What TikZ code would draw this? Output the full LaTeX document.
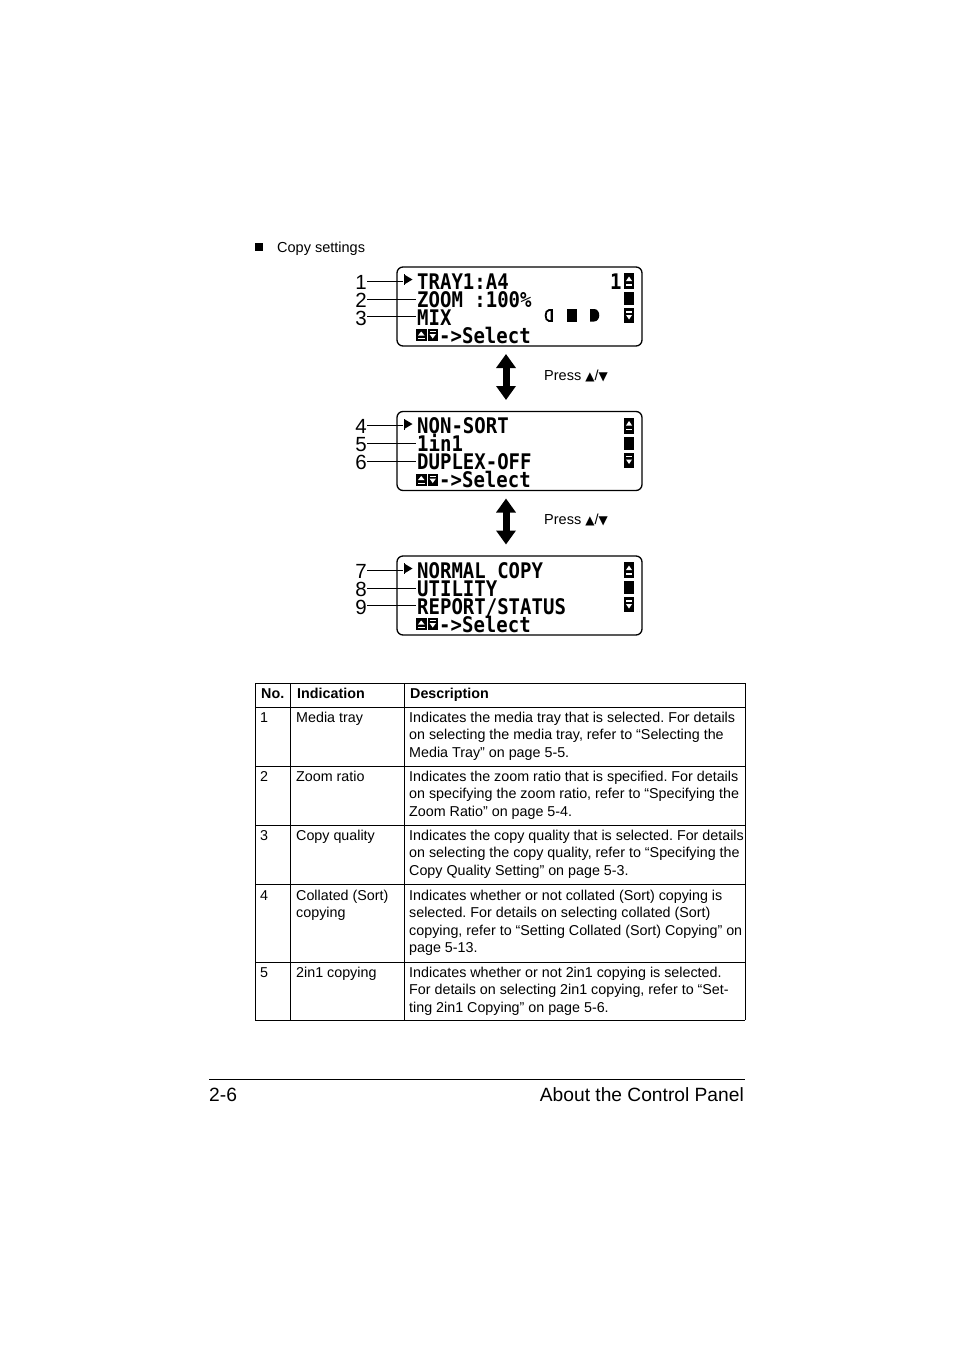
\documentclass[tikz,border=0pt]{standalone}
\usepackage{fontspec}
\setmainfont{Liberation Sans}
\newfontfamily\lcdfont[FakeStretch=0.884]{DejaVu Sans Mono}
\newfontfamily\symfont{DejaVu Sans}
\usetikzlibrary{arrows.meta}
\frenchspacing
\newcommand\lines[1]{\begin{tabular}[t]{@{}l@{}}#1\end{tabular}}
\tikzset{
  lcd/.style={font=\lcdfont\bfseries\fontsize{21.5}{21.5}\selectfont, anchor=base west, inner sep=0pt, text height=15.5pt, text depth=0pt},
  num/.style={font=\fontsize{20.5}{20.5}\selectfont, anchor=base east, inner sep=0pt},
  panel/.style={draw, line width=1.3pt, rounded corners=6pt, minimum width=245pt, minimum height=79pt, inner sep=0pt},
  leader/.style={line width=0.9pt},
  tbl/.style={font=\fontsize{14.3}{17.6}\selectfont, anchor=base west, inner sep=0pt},
  tblhead/.style={font=\bfseries\fontsize{14.3}{17.6}\selectfont, anchor=base west, inner sep=0pt},
  rule/.style={line width=0.9pt},
  updown/.style={line width=7pt, {Triangle[width=19pt,length=14pt]}-{Triangle[width=19pt,length=14pt]}},
  small/.style={font=\fontsize{14.5}{17}\selectfont, anchor=base west, inner sep=0pt},
  foot/.style={font=\fontsize{19.2}{22}\selectfont, inner sep=0pt},
}
\newcommand\tri[1]{{\symfont\fontsize{12}{12}\selectfont #1}}
% common parts of one LCD panel, #1 = name prefix
\newcommand\lcdcommon[1]{%
  \node[panel] (#1) at (519.5,306.5) {};
  % pointer
  \fill (403.5,274) rectangle (405,285);
  \fill (405,275) -- (412.5,279.5) -- (405,284) -- cycle;
  % scroll bar
  \fill (624,273) rectangle (634,289);
  \fill[white] (626,281) -- (632,281) -- (629,276.5) -- cycle;
  \fill[white] (626,284) rectangle (632,285.5);
  \fill (624,292) rectangle (634,305);
  \fill (624,308) rectangle (634,323);
  \fill[white] (626,311) rectangle (632,312.5);
  \fill[white] (626,315) -- (632,315) -- (629,319.5) -- cycle;
  % key icons
  \fill (416,329) rectangle (426.5,341);
  \fill[white] (418,335.5) -- (424.5,335.5) -- (421.25,331.5) -- cycle;
  \fill[white] (418,338) rectangle (424.5,339);
  \fill (427.5,329) rectangle (438,341);
  \fill[white] (429.5,331) rectangle (436,332);
  \fill[white] (429.5,334) -- (436,334) -- (432.75,338.5) -- cycle;
  \node[lcd] (#1s) at (439,343) {->Select};
}
\begin{document}
\begin{tikzpicture}[x=1pt,y=-1pt]
\useasboundingbox (0,0) rectangle (954,1350);

% heading
\fill (255,243) rectangle (263,251);
\node[small] (head) at (277,252) {Copy settings};

% ---------- panel 1
\begin{scope}
  \lcdcommon{pa}
  \node[lcd] (pa1) at (417,289) {TRAY1:A4};
  \node[lcd] (pa2) at (417,307) {ZOOM :100\%};
  \node[lcd] (pa3) at (417,325) {MIX};
  \node[lcd] (pa1r) at (610,289) {1};
  % quality icons
  \draw[line width=1.8pt] (551.5,310) -- (549,310) .. controls (544.5,310) and (544.5,321) .. (549,321) -- (551.5,321) -- cycle;
  \fill (551,309) rectangle (553,322);
  \fill (567,309) rectangle (576.5,321.5);
  \fill (590,309) -- (594,309) .. controls (601,309) and (601,321.5) .. (594,321.5) -- (590,321.5) -- cycle;
\end{scope}
\node[num] (n1) at (367,289) {1};
\node[num] (n2) at (367,307) {2};
\node[num] (n3) at (367,325) {3};
\coordinate (e1) at (403,281);
\coordinate (e2) at (416,299);
\coordinate (e3) at (416,316.5);
\draw[leader] (n1.east |- e1) -- (e1);
\draw[leader] (n2.east |- e2) -- (e2);
\draw[leader] (n3.east |- e3) -- (e3);

% arrow 1
\coordinate (a1t) at (506,354);
\coordinate (a1b) at (506,400);
\draw[updown] (a1t) -- (a1b);
\node[small] (press1) at (544,380) {Press \tri{▲}/\tri{▼}};

% ---------- panel 2
\begin{scope}[shift={(0,144.5)}]
  \lcdcommon{pb}
  \node[lcd] (pb1) at (417,289) {NON-SORT};
  \node[lcd] (pb2) at (417,307) {1in1};
  \node[lcd] (pb3) at (417,325) {DUPLEX-OFF};
\end{scope}
\node[num] (n4) at (367,433.5) {4};
\node[num] (n5) at (367,451.5) {5};
\node[num] (n6) at (367,469.5) {6};
\coordinate (e4) at (403,425.5);
\coordinate (e5) at (416,443.5);
\coordinate (e6) at (416,461);
\draw[leader] (n4.east |- e4) -- (e4);
\draw[leader] (n5.east |- e5) -- (e5);
\draw[leader] (n6.east |- e6) -- (e6);

% arrow 2
\coordinate (a2t) at (506,498.5);
\coordinate (a2b) at (506,544.5);
\draw[updown] (a2t) -- (a2b);
\node[small] (press2) at (544,524.5) {Press \tri{▲}/\tri{▼}};

% ---------- panel 3
\begin{scope}[shift={(0,289)}]
  \lcdcommon{pc}
  \node[lcd] (pc1) at (417,289) {NORMAL COPY};
  \node[lcd] (pc2) at (417,307) {UTILITY};
  \node[lcd] (pc3) at (417,325) {REPORT/STATUS};
\end{scope}
\node[num] (n7) at (367,578) {7};
\node[num] (n8) at (367,596) {8};
\node[num] (n9) at (367,614) {9};
\coordinate (e7) at (403,570);
\coordinate (e8) at (416,588);
\coordinate (e9) at (416,605.5);
\draw[leader] (n7.east |- e7) -- (e7);
\draw[leader] (n8.east |- e8) -- (e8);
\draw[leader] (n9.east |- e9) -- (e9);

% ---------- table
\foreach \yy in {683,707,766,825,884,962,1020} \draw[rule] (255,\yy) -- (745,\yy);
\foreach \xx in {255,290,404,745} \draw[rule] (\xx,683) -- (\xx,1020);

\node[tblhead] (h1) at (261,698) {No.};
\node[tblhead] (h2) at (297,698) {Indication};
\node[tblhead] (h3) at (410,698) {Description};

\node[tbl] (r1a) at (260,722) {1};
\node[tbl] (r1b) at (296,722) {Media tray};
\node[tbl] (r1c) at (409,722) {\lines{Indicates the media tray that is selected. For details\\on selecting the media tray, refer to “Selecting the\\Media Tray” on page 5-5.}};

\node[tbl] (r2a) at (260,781) {2};
\node[tbl] (r2b) at (296,781) {Zoom ratio};
\node[tbl] (r2c) at (409,781) {\lines{Indicates the zoom ratio that is specified. For details\\on specifying the zoom ratio, refer to “Specifying the\\Zoom Ratio” on page 5-4.}};

\node[tbl] (r3a) at (260,840) {3};
\node[tbl] (r3b) at (296,840) {Copy quality};
\node[tbl] (r3c) at (409,840) {\lines{Indicates the copy quality that is selected. For details\\on selecting the copy quality, refer to “Specifying the\\Copy Quality Setting” on page 5-3.}};

\node[tbl] (r4a) at (260,900) {4};
\node[tbl] (r4b) at (296,900) {\lines{Collated (Sort)\\copying}};
\node[tbl] (r4c) at (409,900) {\lines{Indicates whether or not collated (Sort) copying is\\selected. For details on selecting collated (Sort)\\copying, refer to “Setting Collated (Sort) Copying” on\\page 5-13.}};

\node[tbl] (r5a) at (260,977) {5};
\node[tbl] (r5b) at (296,977) {2in1 copying};
\node[tbl] (r5c) at (409,977) {\lines{Indicates whether or not 2in1 copying is selected.\\For details on selecting 2in1 copying, refer to “Set-\\ting 2in1 Copying” on page 5-6.}};

% ---------- footer
\draw[rule] (209,1079) -- (745,1079);
\node[foot, anchor=base west] (pg) at (209,1101) {2-6};
\node[foot, anchor=base east] (title) at (744,1101) {About the Control Panel};
\end{tikzpicture}
\end{document}
